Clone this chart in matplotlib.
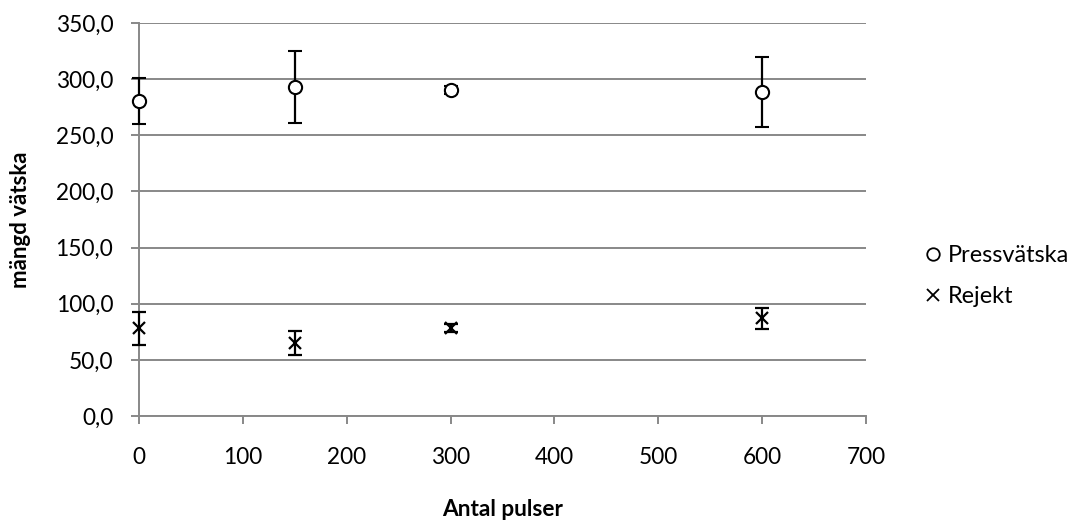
import matplotlib
matplotlib.use("Agg")
import matplotlib.pyplot as plt
from matplotlib.ticker import FuncFormatter

plt.rcParams['font.family'] = ['Lato', 'DejaVu Sans']

pulser = [0, 150, 300, 600]
press = [280.5, 293.0, 290.0, 288.5]
press_err = [20.5, 32.0, 3.5, 31.5]
rejekt = [78.0, 65.0, 78.0, 87.0]
rejekt_err = [15.0, 10.5, 3.5, 9.5]


def fit_size(txt, width_px, renderer):
    # skala fontstorleken så att texten blir lika bred som i förlagan
    w = txt.get_window_extent(renderer).width
    return txt.get_fontsize() * width_px / w


fig = plt.figure(figsize=(10.76, 5.25), dpi=100)
ax = fig.add_axes([139 / 1076, 1 - 416 / 525, (866 - 139) / 1076, (416 - 23) / 525])

for art in [
    ax.errorbar(pulser, press, yerr=press_err, fmt='o', mfc='white', mec='black',
                mew=1.5, ms=9.5, ecolor='black', elinewidth=1.6, capsize=4.8,
                capthick=1.6, label='Pressvätska', zorder=3),
    ax.errorbar(pulser, rejekt, yerr=rejekt_err, fmt='x', color='black',
                mew=1.6, ms=9, ecolor='black', elinewidth=1.6, capsize=4.8,
                capthick=1.6, label='Rejekt', zorder=3),
]:
    for child in art.get_children():
        child.set_clip_on(False)

ax.set_xlim(0, 700)
ax.set_ylim(0, 350)
ax.set_xticks(range(0, 701, 100))
ax.set_yticks(range(0, 351, 50))
ax.yaxis.set_major_formatter(FuncFormatter(lambda v, p: f"{v:.1f}".replace('.', ',')))
ax.grid(axis='y', color='#888888', linewidth=1.4)
ax.set_axisbelow(True)

for s in ['top', 'right']:
    ax.spines[s].set_visible(False)
for s in ['left', 'bottom']:
    ax.spines[s].set_color('#888888')
    ax.spines[s].set_linewidth(1.4)
ax.tick_params(axis='both', colors='#888888', length=5.5, width=1.4, labelsize=15,
               labelcolor='black')
ax.tick_params(axis='x', pad=17)
ax.tick_params(axis='y', pad=13)

ax.set_xlabel('Antal pulser', fontsize=16, fontweight='bold')
ax.set_ylabel('mängd vätska', fontsize=16, fontweight='bold')

fig.canvas.draw()
r = fig.canvas.get_renderer()
ax.tick_params(labelsize=fit_size(ax.get_yticklabels()[-1], 58, r))
ax.xaxis.label.set_fontsize(fit_size(ax.xaxis.label, 122, r))
ax.xaxis.set_label_coords(0.5, -(499 - 416) / 393)
ax.yaxis.set_label_coords((31 - 139) / 727, 0.5)

probe = fig.text(0, 0, 'Pressvätska', fontsize=16)
lfs = fit_size(probe, 122, r)
probe.remove()
px = lfs * 100 / 72

h, l = ax.get_legend_handles_labels()
h = [hh[0] for hh in h]
leg = fig.legend(h, l, loc='center left',
                 bbox_to_anchor=((933 - 0.4 * px) / 1076, 1 - 276 / 525),
                 frameon=False, fontsize=lfs, borderpad=0, borderaxespad=0,
                 handlelength=0.8, handletextpad=(948 - 933 - 0.4 * px) / px,
                 labelspacing=0.85)
for line in leg.get_lines():
    line.set_markersize(9)
    line.set_markeredgewidth(1.3)

fig.savefig('out.png', dpi=100)
